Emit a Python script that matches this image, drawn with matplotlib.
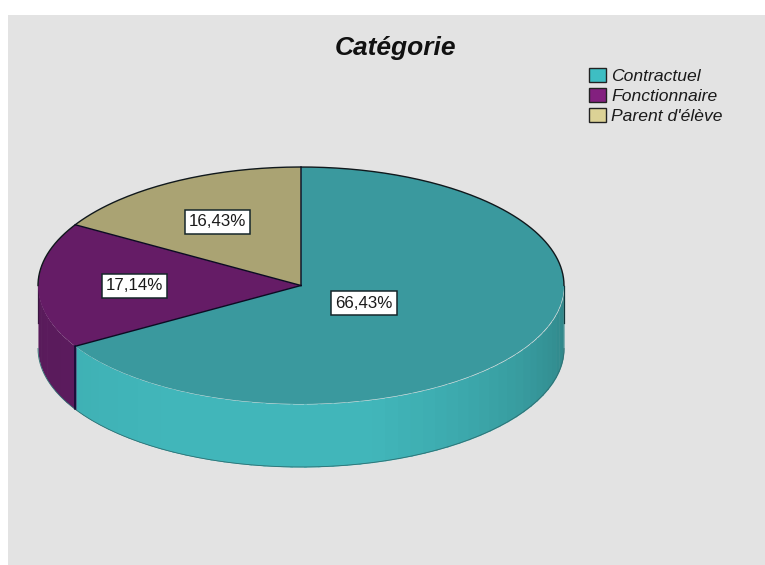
import numpy as np
import matplotlib
matplotlib.use("Agg")
import matplotlib.pyplot as plt
from matplotlib.patches import Patch, Rectangle

title = "Catégorie"
categories = ["Contractuel", "Fonctionnaire", "Parent d'élève"]
values = [66.43, 17.14, 16.43]
labels = ["66,43%", "17,14%", "16,43%"]
top_colors = ["#3A999E", "#651C66", "#AAA373"]
wall_colors = ["#41B6BA", "#5E1C60", "#8F8960"]
legend_colors = ["#3EBEC3", "#83207F", "#DCD296"]

W, H = 765, 565
CX, CY, RX, RY, DEPTH = 301, 285.5, 263, 118.5, 63
LABEL_PIX = [(364, 303), (134.5, 286), (217.5, 222)]

plt.rcParams["font.family"] = ["Liberation Sans", "DejaVu Sans"]
fig = plt.figure(figsize=(W / 100, H / 100), dpi=100, facecolor="white")
fig.add_artist(Rectangle((8 / W, 0), 1 - 8 / W, 1 - 15 / H, transform=fig.transFigure,
                         facecolor="#E3E3E3", edgecolor="none", zorder=-5))
ax = fig.add_axes([0, 0, 1, 1], facecolor="none")


def px(x, y):
    return (x - CX) / RX, (CY - y) / RY


dz = DEPTH / RY

# top face
wedges, _ = ax.pie(values, colors=top_colors, startangle=90, counterclock=False,
                   radius=1, center=(0, 0), wedgeprops=dict(linewidth=0), frame=False)
ax.set_aspect("auto")
x0, y1 = px(0, 0)
x1, y0 = px(W, H)
ax.set_xlim(x0, x1)
ax.set_ylim(y0, y1)
ax.axis("off")
for w in wedges:
    w.set_zorder(5)

# side wall, from the same wedge angles
for w, col in zip(wedges, wall_colors):
    lo, hi = w.theta1 % 360, w.theta2 % 360
    if hi <= lo:
        hi += 360
    a = max(lo, 180)
    b = min(hi, 360)
    if b <= a:
        continue
    edges = np.append(np.arange(a, b, 3.0), b)
    for s, e in zip(edges[:-1], edges[1:]):
        deg = (s + e) / 2
        k = 1.0 - 0.28 * np.clip((deg - 285) / 75, 0, 1) ** 1.1
        k -= 0.06 * np.clip((240 - deg) / 60, 0, 1)
        c = np.clip(np.array(matplotlib.colors.to_rgb(col)) * k, 0, 1)
        t = np.radians(np.linspace(s - 0.3, e + 0.3, 6))
        ax.fill_between(np.cos(t), np.sin(t), np.sin(t) - dz, color=c, lw=0, zorder=2)

# outlines
t = np.radians(np.linspace(0, 180, 200))
ax.plot(np.cos(t), np.sin(t), color="#10181C", lw=1.0, zorder=6)
tb = np.radians(np.linspace(180, 360, 300))
ax.plot(np.cos(tb), np.sin(tb) - dz, color="#2F6F72", lw=0.6, zorder=3)
for sx in (-1, 1):
    ax.plot([sx, sx], [0, -dz * 0.6], color="#12363A" if sx > 0 else "#3A1540", lw=0.9, zorder=3)
for w in wedges:
    a = np.radians(w.theta1)
    ax.plot([0, np.cos(a)], [0, np.sin(a)], color="#0B0B22", lw=1.0, zorder=6)
    if np.sin(a) < 0:
        ax.plot([np.cos(a)] * 2, [np.sin(a), np.sin(a) - dz], color="#0B0B30", lw=1.1, zorder=6)

# value labels
for lab, (lx, ly) in zip(labels, LABEL_PIX):
    dx, dy = px(lx, ly)
    ax.text(dx, dy, lab, ha="center", va="center", fontsize=12.2, color="#1A1A1A", zorder=8,
            bbox=dict(boxstyle="square,pad=0.25", facecolor="white", edgecolor="#16262A", linewidth=1.1))

# title
fig.text(395 / W, 1 - 47.5 / H, title, ha="center", va="center", fontsize=19,
         fontweight="bold", fontstyle="italic", color="#111111")

# legend
handles = [Patch(facecolor=c, edgecolor="#222222", linewidth=1.0) for c in legend_colors]
leg = fig.legend(handles, categories, loc="upper left", bbox_to_anchor=(589 / W, 1 - 67.5 / H),
                 frameon=False, prop=dict(size=12.6, style="italic"), labelcolor="#1A1A1A",
                 handlelength=0.95, handleheight=0.9, handletextpad=0.33,
                 labelspacing=0.22, borderpad=0, borderaxespad=0)

fig.savefig("out.png", dpi=100)
